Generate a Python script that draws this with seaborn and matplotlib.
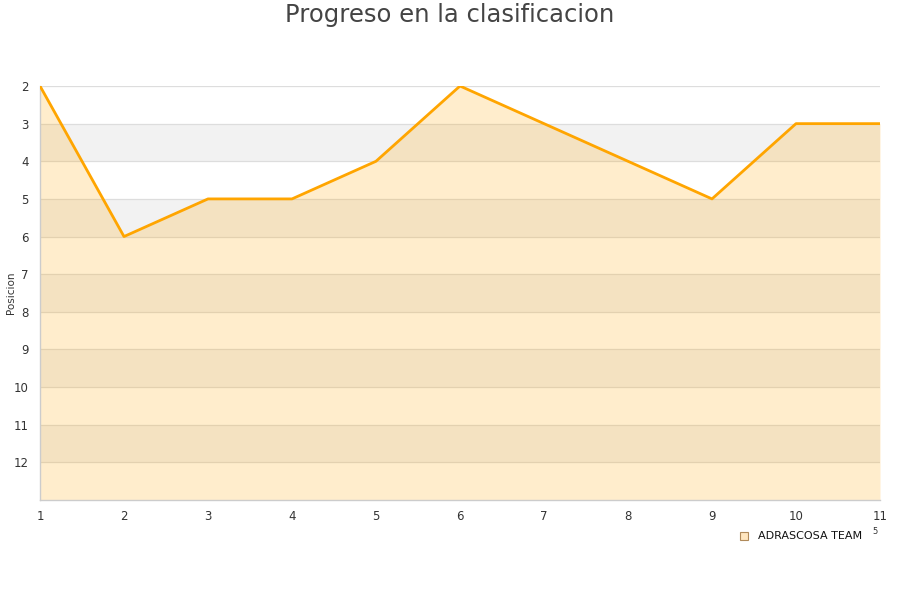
import pandas as pd
import matplotlib.pyplot as plt
import seaborn as sns
from matplotlib.lines import Line2D

jornadas = [1, 2, 3, 4, 5, 6, 7, 8, 9, 10, 11]
posiciones = [2, 6, 5, 5, 4, 2, 3, 4, 5, 3, 3]
equipo = "ADRASCOSA TEAM"
y_ticks = [2, 3, 4, 5, 6, 7, 8, 9, 10, 11, 12]


def main():
    df = pd.DataFrame({"jornada": jornadas, "posicion": posiciones})

    sns.set_theme(style="white")
    plt.rcParams['font.family'] = ['DejaVu Sans']

    fig = plt.figure(figsize=(9, 6), dpi=100)
    ax = fig.add_axes([40 / 900, 1 - 500 / 600, 840 / 900, 414 / 600])

    # alternating background bands
    for lo in [3, 5, 7, 9, 11]:
        ax.axhspan(lo, lo + 1, color='#f2f2f2', zorder=0, lw=0)
    for y in y_ticks:
        ax.axhline(y, color='#dddddd', lw=0.9, zorder=1)

    # area under the line
    ax.fill_between(df['jornada'], df['posicion'], 13, color='#ffa500',
                    alpha=0.2, lw=0, zorder=2)
    sns.lineplot(data=df, x='jornada', y='posicion', color='#ffa500',
                 linewidth=2.0, ax=ax, zorder=3)

    ax.set_xlim(1, 11)
    ax.set_ylim(13, 2)
    ax.set_xticks(jornadas)
    ax.set_yticks(y_ticks)
    ax.tick_params(axis='both', length=0, labelsize=8.5, colors='#333333')
    ax.tick_params(axis='x', pad=7)
    ax.tick_params(axis='y', pad=8)
    ax.set_xlabel('')
    ax.set_ylabel('Posicion', fontsize=7.5, color='#333333')
    ax.yaxis.set_label_coords(-24 / 840, 0.5)

    for side in ['top', 'right']:
        ax.spines[side].set_visible(False)
    for side in ['left', 'bottom']:
        ax.spines[side].set_color('#cccccc')
        ax.spines[side].set_linewidth(1)

    fig.text(0.5, 1 - 15 / 600, 'Progreso en la clasificacion', ha='center',
             va='center', fontsize=17.5, color='#444444')

    handle = Line2D([], [], marker='s', linestyle='none', markersize=6,
                    markerfacecolor='#ffe6bf', markeredgecolor='#b08a5a',
                    markeredgewidth=0.8)
    fig.legend([handle], [equipo], loc='center', bbox_to_anchor=(0.886, 0.106),
               frameon=False, fontsize=8, handletextpad=0.3,
               labelcolor='#111111')
    fig.text(0.972, 1 - 532 / 600, '5', fontsize=6, color='#333333',
             ha='center', va='center')

    plt.savefig('out.png', dpi=100)


if __name__ == "__main__":
    main()
